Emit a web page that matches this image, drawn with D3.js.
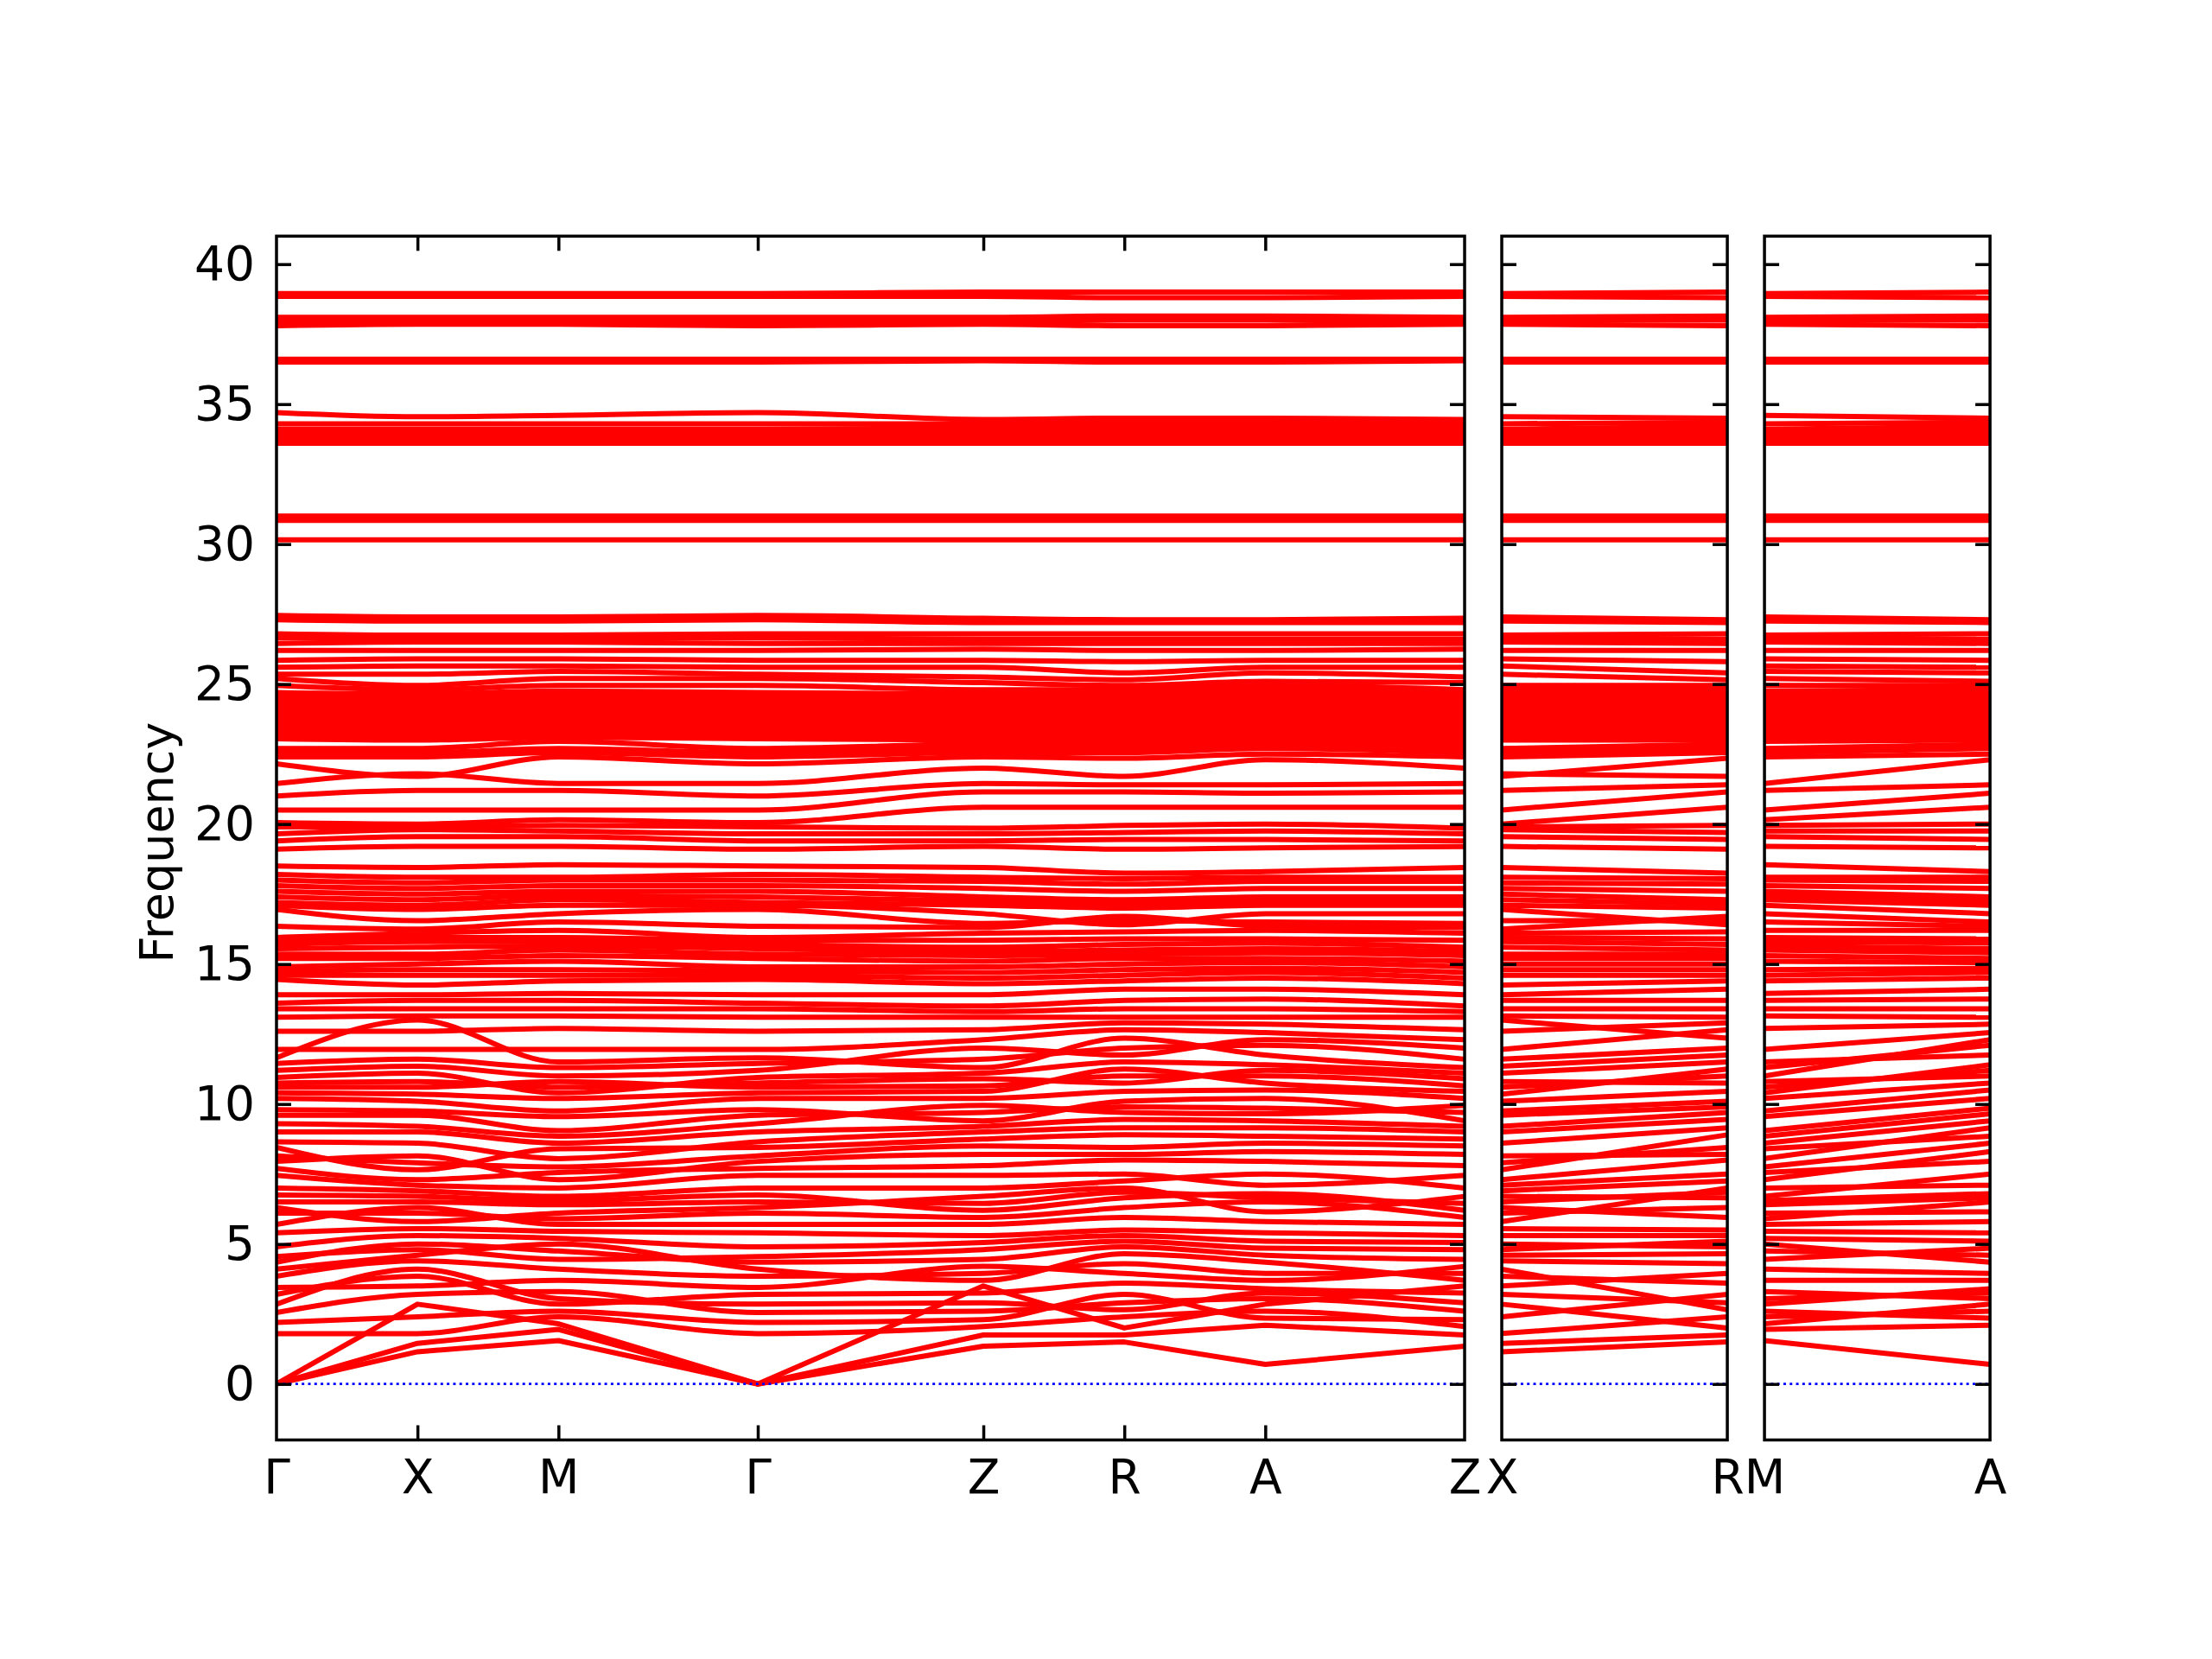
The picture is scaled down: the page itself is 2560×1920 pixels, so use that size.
<!DOCTYPE html>
<html>
<head>
<meta charset="utf-8">
<script src="https://cdn.jsdelivr.net/npm/d3@7"></script>
<style>
  html, body { margin: 0; padding: 0; background: #fff; }
  svg { display: block; }
  text { font-family: "DejaVu Sans", sans-serif; fill: #000; }
</style>
</head>
<body>
<div id="chart"></div>
<script>
// =========================
// Phonon band structure
// =========================

// -------------------------
// DATA: frequency of each band at each high-symmetry point
// (band i = i-th entry of every list; rows grouped 0-5 / 5-10 / 10-14 / 14-20 / 20-28 / 30-39)
// -------------------------
const freqG = [
  0, 0, 0, 1.8, 2.2, 2.55, 2.85, 3.2, 3.45, 3.85, 4.1, 4.35, 4.55, 4.9,
  5.4, 5.7, 6.1, 6.3, 6.5, 6.75, 7.0, 7.45, 7.7, 7.95, 8.15, 8.45, 8.65, 9.0, 9.3, 9.6, 9.8,
  10.2, 10.4, 10.6, 10.75, 10.95, 11.2, 11.45, 11.65, 11.95, 12.6, 13.1, 13.4, 13.6, 13.9,
  14.45, 14.6, 14.75, 14.9, 15.2, 15.35, 15.55, 15.7, 15.85, 15.95, 16.35, 16.95,
  17.1, 17.2, 17.4, 17.6, 17.8, 18.0, 18.2, 18.5, 19.1, 19.4, 19.65, 19.9,
  20.05, 20.5, 21.0, 21.45, 22.15, 22.4, 22.55, 22.7, 23.05, 23.2, 23.35, 23.5, 23.65, 23.8, 23.95,
  24.1, 24.25, 24.4, 24.55, 24.7, 24.95, 25.2, 25.35, 25.6, 25.85, 26.2, 26.45, 26.65, 26.8, 27.3, 27.45,
  30.15, 30.85, 31.0, 33.6, 33.7, 33.85, 34.0, 34.1, 34.3, 34.7, 36.5, 36.6, 37.8, 37.95, 38.1, 38.85, 38.95
];
const freqX = [
  1.15, 1.45, 2.85, 1.8, 2.4, 3.2, 4.1, 3.85, 3.5, 4.4, 4.6, 5.0, 4.8, 5.3,
  5.55, 6.3, 6.1, 5.8, 6.5, 6.7, 6.9, 7.1, 7.3, 8.15, 7.9, 7.65, 8.6, 9.0, 9.2, 9.6, 9.75,
  10.1, 10.35, 10.6, 10.8, 11.1, 11.35, 11.6, 13.0, 11.95, 12.6, 13.15, 13.4, 13.7, 13.9,
  14.25, 14.6, 14.8, 15.0, 15.2, 15.35, 15.6, 15.8, 15.95, 16.1, 16.25, 16.55,
  16.95, 17.1, 17.3, 17.5, 17.7, 17.9, 18.1, 18.45, 19.2, 19.55, 19.8, 19.9,
  20.0, 20.5, 21.2, 21.8, 21.7, 22.4, 22.55, 22.7, 23.0, 23.15, 23.3, 23.45, 23.6, 23.75, 23.9,
  24.05, 24.2, 24.35, 24.5, 24.65, 24.8, 24.95, 25.35, 25.65, 25.9, 26.2, 26.5, 26.65, 26.75, 27.25, 27.4,
  30.15, 30.85, 31.0, 33.6, 33.7, 33.85, 34.0, 34.1, 34.3, 34.55, 36.5, 36.6, 37.85, 38.0, 38.1, 38.85, 38.95
];
const freqM = [
  1.55, 1.95, 2.15, 2.4, 2.6, 3.3, 3.05, 2.85, 3.7, 4.1, 5.0, 4.75, 4.45, 5.2,
  5.45, 5.7, 5.9, 6.1, 6.4, 6.55, 6.7, 7.0, 7.55, 7.3, 7.75, 8.4, 8.05, 8.6, 8.85, 9.05, 9.55,
  9.75, 10.2, 10.8, 10.6, 10.4, 11.0, 11.3, 11.5, 11.95, 12.7, 13.15, 13.4, 13.7, 13.95,
  14.4, 14.6, 14.8, 15.1, 15.3, 15.5, 15.65, 15.8, 15.95, 16.2, 16.5, 16.8,
  17.1, 17.3, 17.45, 17.6, 17.8, 18.0, 18.1, 18.55, 19.2, 19.55, 19.75, 19.95,
  20.15, 20.5, 21.2, 21.45, 22.4, 22.55, 22.7, 22.95, 23.1, 23.25, 23.4, 23.55, 23.7, 23.85, 24.0,
  24.15, 24.3, 24.45, 24.6, 24.75, 24.95, 25.2, 25.45, 25.65, 25.9, 26.2, 26.5, 26.65, 26.75, 27.25, 27.4,
  30.15, 30.85, 31.0, 33.6, 33.7, 33.85, 34.0, 34.1, 34.3, 34.6, 36.5, 36.6, 37.85, 38.0, 38.1, 38.85, 38.95
];
const freqZ = [
  1.35, 1.75, 3.5, 2.05, 2.3, 2.6, 2.9, 3.25, 4.2, 3.95, 3.7, 4.45, 4.8, 5.05,
  5.3, 5.7, 5.95, 6.7, 6.45, 6.2, 7.0, 7.45, 7.8, 8.2, 8.5, 8.75, 9.0, 9.2, 9.95, 9.7, 9.4,
  10.2, 10.45, 10.65, 10.9, 11.1, 12.0, 11.6, 11.3, 12.3, 12.65, 13.1, 13.3, 13.5, 13.9,
  14.3, 14.5, 14.7, 14.9, 15.1, 15.3, 15.45, 15.6, 15.85, 16.1, 16.3, 16.45,
  16.8, 17.1, 17.25, 17.4, 17.7, 17.95, 18.1, 18.45, 19.2, 19.4, 19.65, 19.85,
  20.6, 21.15, 21.45, 22.0, 22.4, 22.55, 22.7, 22.85, 23.0, 23.15, 23.3, 23.45, 23.6, 23.75, 23.9,
  24.05, 24.2, 24.35, 24.5, 24.65, 24.8, 25.05, 25.25, 25.6, 25.85, 26.25, 26.45, 26.6, 26.8, 27.2, 27.35,
  30.15, 30.85, 31.0, 33.6, 33.7, 33.85, 34.0, 34.15, 34.3, 34.45, 36.55, 36.6, 37.85, 37.95, 38.1, 38.85, 39.0
];
const freqR = [
  1.5, 1.75, 2.0, 2.4, 3.2, 2.9, 2.65, 3.6, 3.95, 4.3, 4.65, 4.9, 5.1, 5.3,
  5.5, 5.95, 6.3, 7.0, 6.85, 6.65, 7.25, 7.5, 8.0, 8.2, 8.45, 8.9, 9.15, 9.45, 9.7, 9.9, 10.1,
  10.45, 11.25, 11.0, 10.75, 11.5, 11.75, 12.0, 12.35, 12.65, 12.9, 13.1, 13.4, 13.7, 14.1,
  14.4, 14.6, 14.8, 15.0, 15.2, 15.35, 15.5, 15.7, 15.9, 16.15, 16.7, 16.55,
  16.4, 17.0, 17.15, 17.3, 17.6, 17.85, 18.05, 18.25, 19.1, 19.45, 19.7, 19.95,
  20.6, 21.15, 21.4, 21.7, 22.35, 22.55, 22.7, 22.85, 23.0, 23.15, 23.3, 23.45, 23.6, 23.75, 23.9,
  24.05, 24.2, 24.35, 24.5, 24.65, 24.8, 24.95, 25.15, 25.4, 25.8, 26.2, 26.45, 26.6, 26.8, 27.2, 27.3,
  30.15, 30.85, 31.0, 33.6, 33.75, 33.9, 34.05, 34.2, 34.35, 34.5, 36.5, 36.6, 37.8, 38.0, 38.15, 38.8, 39.0
];
const freqA = [
  0.7, 2.1, 2.85, 2.6, 2.35, 3.05, 3.25, 3.4, 3.7, 3.95, 4.35, 4.6, 4.85, 5.1,
  5.4, 5.8, 6.5, 6.15, 6.65, 6.8, 7.5, 7.1, 7.95, 8.3, 8.6, 8.85, 9.15, 9.4, 9.65, 9.85, 10.2,
  10.5, 10.75, 11.0, 11.2, 11.4, 12.3, 12.1, 11.75, 12.55, 12.85, 13.1, 13.4, 13.75, 14.1,
  14.5, 14.7, 14.85, 15.05, 15.2, 15.4, 15.55, 15.75, 15.9, 16.2, 16.35, 16.5,
  16.8, 17.1, 17.25, 17.4, 17.7, 17.95, 18.1, 18.3, 19.15, 19.45, 19.75, 20.0,
  20.6, 21.1, 21.4, 22.3, 22.5, 22.7, 22.85, 23.0, 23.15, 23.3, 23.45, 23.6, 23.75, 23.9, 24.05,
  24.2, 24.35, 24.5, 24.65, 24.8, 24.95, 25.1, 25.4, 25.6, 25.85, 26.2, 26.45, 26.6, 26.8, 27.2, 27.3,
  30.15, 30.85, 31.0, 33.6, 33.75, 33.9, 34.05, 34.2, 34.35, 34.5, 36.5, 36.6, 37.8, 38.0, 38.15, 38.8, 39.0
];

// path segments (k-distance) and labels per panel
const path1Labels = ["Γ", "X", "M", "Γ", "Z", "R", "A", "Z"];
const path1Segments = [0.1, 0.1, 0.1414, 0.16, 0.1, 0.1, 0.1414];
const path2Labels = ["X", "R"];
const path2Segments = [0.16];
const path3Labels = ["M", "A"];
const path3Segments = [0.16];

const yTickValues = [0, 5, 10, 15, 20, 25, 30, 35, 40];
const yDomain = [-2, 41];
const yLabel = "Frequency";

// -------------------------
// LAYOUT
// -------------------------
const W = 2560, H = 1920;
const plotLeft = 320, plotTop = 273.3, plotBottom = 1666.5;
const panelGap = 43;
const pxPerK = 1631.5;
const fontSize = 55;
const tickLen = 17;
const lineW = 3.5;

const panels = [
  { labels: path1Labels, seg: path1Segments, nodes: [freqG, freqX, freqM, freqG, freqZ, freqR, freqA, freqZ], yLabels: true },
  { labels: path2Labels, seg: path2Segments, nodes: [freqX, freqR] },
  { labels: path3Labels, seg: path3Segments, nodes: [freqM, freqA] }
];

const svg = d3.select("#chart").append("svg")
  .attr("width", W).attr("height", H)
  .attr("viewBox", `0 0 ${W} ${H}`);

svg.append("rect").attr("width", W).attr("height", H).attr("fill", "#fff");

const y = d3.scaleLinear().domain(yDomain).range([plotBottom, plotTop]);

function styleAxis(g) {
  g.select(".domain").remove();
  g.selectAll(".tick line").attr("stroke", "#000").attr("stroke-width", lineW);
  g.selectAll(".tick text").attr("font-size", fontSize).attr("font-family", "DejaVu Sans, sans-serif");
}

let x0 = plotLeft;
panels.forEach((p, pi) => {
  const dist = [0, ...d3.cumsum(p.seg)];
  const total = dist[dist.length - 1];
  const width = total * pxPerK;
  const x = d3.scaleLinear().domain([0, total]).range([x0, x0 + width]);

  const clipId = "clip" + pi;
  svg.append("clipPath").attr("id", clipId)
    .append("rect").attr("x", x0).attr("y", plotTop).attr("width", width).attr("height", plotBottom - plotTop);

  // bands (acoustic branches drawn straight so they meet Γ in a V)
  const nBands = d3.min(p.nodes, a => a.length);
  const bands = d3.range(nBands).map(i => p.nodes.map((arr, j) => [dist[j], arr[i]]));
  const smooth = d3.line().x(d => x(d[0])).y(d => y(d[1])).curve(d3.curveMonotoneX);
  const straight = d3.line().x(d => x(d[0])).y(d => y(d[1]));

  const gBands = svg.append("g").attr("clip-path", `url(#${clipId})`);
  gBands.selectAll("path.band").data(bands).enter().append("path")
    .attr("class", "band")
    .attr("d", d => d.some(pt => pt[1] === 0) ? straight(d) : smooth(d))
    .attr("fill", "none")
    .attr("stroke", "#ff0000")
    .attr("stroke-width", 6)
    .attr("stroke-linejoin", "round");

  // zero line
  gBands.append("path")
    .attr("d", d3.line().x(d => x(d)).y(() => y(0))([0, total]))
    .attr("fill", "none")
    .attr("stroke", "#0000ff")
    .attr("stroke-width", 2.8)
    .attr("stroke-dasharray", "3,4.3");

  // y axes (ticks inward on both sides)
  const left = svg.append("g").attr("transform", `translate(${x0},0)`)
    .call(d3.axisLeft(y).tickValues(yTickValues).tickSize(-tickLen).tickPadding(25)
      .tickFormat(p.yLabels ? d3.format("d") : ""));
  styleAxis(left);
  const right = svg.append("g").attr("transform", `translate(${x0 + width},0)`)
    .call(d3.axisRight(y).tickValues(yTickValues).tickSize(-tickLen).tickFormat(""));
  styleAxis(right);

  // x ticks at interior high-symmetry points
  const inner = dist.slice(1, -1);
  const bottom = svg.append("g").attr("transform", `translate(0,${plotBottom})`)
    .call(d3.axisBottom(x).tickValues(inner).tickSize(-tickLen).tickFormat(""));
  styleAxis(bottom);
  const top = svg.append("g").attr("transform", `translate(0,${plotTop})`)
    .call(d3.axisTop(x).tickValues(inner).tickSize(-tickLen).tickFormat(""));
  styleAxis(top);

  // point labels
  const labelAxis = svg.append("g").attr("transform", `translate(0,${plotBottom})`)
    .call(d3.axisBottom(x).tickValues(dist).tickSize(0).tickPadding(22)
      .tickFormat((d, i) => p.labels[i]));
  styleAxis(labelAxis);

  // frame
  svg.append("rect")
    .attr("x", x0).attr("y", plotTop).attr("width", width).attr("height", plotBottom - plotTop)
    .attr("fill", "none").attr("stroke", "#000").attr("stroke-width", lineW);

  x0 += width + panelGap;
});

// y label
svg.append("text")
  .attr("transform", `translate(200,975) rotate(-90)`)
  .attr("text-anchor", "middle")
  .attr("font-size", 54)
  .text(yLabel);
</script>
</body>
</html>
